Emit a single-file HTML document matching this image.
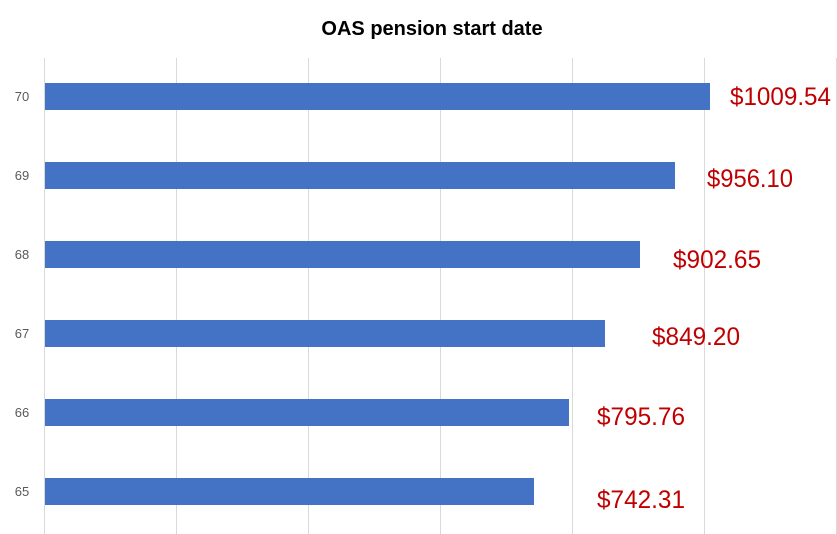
<!DOCTYPE html>
<html><head><meta charset="utf-8"><style>body{margin:0;background:#fff}svg{display:block}</style></head>
<body>
<svg width="837" height="534" viewBox="0 0 837 534" xmlns="http://www.w3.org/2000/svg" font-family="Liberation Sans, sans-serif">
<rect width="837" height="534" fill="#fff"/>
<text x="432" y="35" text-anchor="middle" font-size="20" font-weight="bold" fill="#000">OAS pension start date</text>
<g stroke="#d9d9d9" stroke-width="1">
<line x1="44.5" y1="58" x2="44.5" y2="534"/>
<line x1="176.5" y1="58" x2="176.5" y2="534"/>
<line x1="308.5" y1="58" x2="308.5" y2="534"/>
<line x1="440.5" y1="58" x2="440.5" y2="534"/>
<line x1="572.5" y1="58" x2="572.5" y2="534"/>
<line x1="704.5" y1="58" x2="704.5" y2="534"/>
<line x1="836.5" y1="58" x2="836.5" y2="534"/>
</g>
<g fill="#4472c4">
<rect x="45" y="83" width="665" height="27"/>
<rect x="45" y="162" width="630" height="27"/>
<rect x="45" y="241" width="595" height="27"/>
<rect x="45" y="320" width="560" height="27"/>
<rect x="45" y="399" width="524" height="27"/>
<rect x="45" y="478" width="489" height="27"/>
</g>
<g font-size="13" fill="#595959" text-anchor="middle">
<text x="22" y="101">70</text>
<text x="22" y="180">69</text>
<text x="22" y="259">68</text>
<text x="22" y="338">67</text>
<text x="22" y="417">66</text>
<text x="22" y="496">65</text>
</g>
<g font-size="25" fill="#c00000">
<text x="730" y="105" textLength="101" lengthAdjust="spacingAndGlyphs">$1009.54</text>
<text x="707" y="187" textLength="86" lengthAdjust="spacingAndGlyphs">$956.10</text>
<text x="673" y="268" textLength="88" lengthAdjust="spacingAndGlyphs">$902.65</text>
<text x="652" y="345" textLength="88" lengthAdjust="spacingAndGlyphs">$849.20</text>
<text x="597" y="425" textLength="88" lengthAdjust="spacingAndGlyphs">$795.76</text>
<text x="597" y="508" textLength="88" lengthAdjust="spacingAndGlyphs">$742.31</text>
</g>
</svg>
</body></html>
